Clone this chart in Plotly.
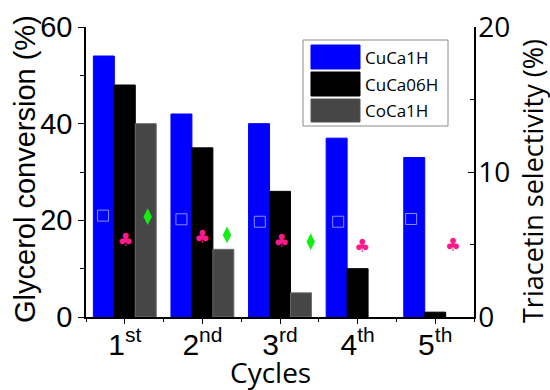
import plotly.graph_objects as go

cycles = [1, 2, 3, 4, 5]
cycle_labels = ["1<sup>st</sup>", "2<sup>nd</sup>", "3<sup>rd</sup>", "4<sup>th</sup>", "5<sup>th</sup>"]
series_names = ["CuCa1H", "CuCa06H", "CoCa1H"]
conv_cuca1h = [54, 42, 40, 37, 33]
conv_cuca06h = [48, 35, 26, 10, 1]
conv_coca1h = [40, 14, 5, None, None]

# selectivity markers (right axis)
sq_x = [0.72, 1.73, 2.74, 3.75, 4.69]
sq_y = [6.99, 6.74, 6.57, 6.57, 6.76]
club_x = [1.01, 2.0, 3.02, 4.06, 5.23]
club_y = [5.19, 5.38, 5.15, 4.8, 4.85]
dia_x = [1.295, 2.317, 3.396]
dia_y = [6.92, 5.66, 5.19]
ysq_x = [1.01]
ysq_y = [20.45]

colors = ["#0000ff", "#000000", "#464646"]
lines = ["#0000ff", "#000000", "#6a6a6a"]

fig = go.Figure()
for name, vals, c, lc in zip(series_names, [conv_cuca1h, conv_cuca06h, conv_coca1h], colors, lines):
    fig.add_trace(go.Bar(x=cycles, y=vals, name=name, marker=dict(color=c, line=dict(color=lc, width=1)),
                         showlegend=False))

fig.add_trace(go.Scatter(x=sq_x, y=sq_y, mode="markers", yaxis="y2", showlegend=False,
                         marker=dict(symbol="square-open", size=11, color="#8c8cff", line=dict(width=1))))
fig.add_trace(go.Scatter(x=club_x, y=club_y, mode="text", text=["♣"] * len(club_x), yaxis="y2",
                         showlegend=False, textfont=dict(family="DejaVu Sans", size=18, color="#ff1a8c")))
fig.add_trace(go.Scatter(x=dia_x, y=dia_y, mode="markers", yaxis="y2", showlegend=False,
                         marker=dict(symbol="diamond-tall", size=12, color="#11ee11")))
fig.add_trace(go.Scatter(x=ysq_x, y=ysq_y, mode="markers", yaxis="y2", showlegend=False, cliponaxis=False,
                         marker=dict(symbol="square-open", size=10, color="#ffff99", line=dict(width=1))))

W, H = 550, 390
ml, mr, mt, mb = 86, 76, 27, 73
pw, ph = W - ml - mr, H - mt - mb


def fx(x):
    return (x - ml) / pw


def fy(y):
    return 1 - (y - mt) / ph


# custom legend
lx0, lx1, ly0, ly1 = 303, 448, 40, 126
shapes = [dict(type="rect", xref="paper", yref="paper", x0=fx(lx0), x1=fx(lx1), y0=fy(ly1), y1=fy(ly0),
               line=dict(color="#8a8a8a", width=1), fillcolor="white", layer="above")]
annotations = []
rows = [(45, 69), (72, 96), (99, 122)]
for (t, b), name, c in zip(rows, series_names, colors):
    shapes.append(dict(type="rect", xref="paper", yref="paper", x0=fx(311), x1=fx(360), y0=fy(b), y1=fy(t),
                       line=dict(color="#555555" if c == "#464646" else c, width=1), fillcolor=c, layer="above"))
    annotations.append(dict(xref="paper", yref="paper", x=fx(363), y=fy((t + b) / 2), text=name,
                            showarrow=False, xanchor="left", yanchor="middle",
                            font=dict(family="Open Sans", size=17, color="black")))

# axis titles
annotations.append(dict(xref="paper", yref="paper", x=fx(25), y=fy(169), text="Glycerol conversion (%)",
                        textangle=-90, showarrow=False, xanchor="center", yanchor="middle",
                        font=dict(family="Liberation Sans", size=29, color="black")))
annotations.append(dict(xref="paper", yref="paper", x=fx(532), y=fy(181), text="Triacetin selectivity (%)",
                        textangle=-90, showarrow=False, xanchor="center", yanchor="middle",
                        font=dict(family="Open Sans", size=27, color="black")))
annotations.append(dict(xref="paper", yref="paper", x=fx(270), y=fy(372), text="Cycles",
                        showarrow=False, xanchor="center", yanchor="middle",
                        font=dict(family="Open Sans", size=28, color="black")))

fig.update_layout(
    width=550, height=390,
    margin=dict(l=ml, r=mr, t=mt, b=mb, autoexpand=False),
    plot_bgcolor="white", paper_bgcolor="white",
    barmode="group", bargap=0.19, bargroupgap=0,
    shapes=shapes, annotations=annotations,
    xaxis=dict(range=[0.5, 5.5], tickmode="array", tickvals=cycles, ticktext=cycle_labels, automargin=False,
               ticks="outside", ticklen=5, tickwidth=1, tickcolor="black", ticklabelstandoff=-5,
               minor=dict(tickmode="linear", tick0=0.5, dtick=1, ticks="outside", ticklen=3, tickcolor="black"),
               showline=True, linecolor="black", linewidth=1.5, showgrid=False, zeroline=False,
               tickfont=dict(family="Liberation Sans", size=30, color="black")),
    xaxis2=dict(range=[0.5, 5.5], overlaying="x", side="top", anchor="y", tickmode="array", tickvals=cycles,
                ticks="inside", ticklen=5, tickcolor="black", showticklabels=False, automargin=False,
                minor=dict(tickmode="linear", tick0=0.5, dtick=1, ticks="inside", ticklen=4, tickcolor="black"),
                showline=True, linecolor="black", linewidth=1.5, showgrid=False, zeroline=False),
    yaxis=dict(range=[0, 60], tickvals=[0, 20, 40, 60], ticks="outside", ticklen=6, tickcolor="black",
               automargin=False,
               minor=dict(tickvals=[10, 30, 50], ticks="outside", ticklen=4, tickcolor="black"),
               showline=True, linecolor="black", linewidth=1.5, showgrid=False, zeroline=False,
               tickfont=dict(family="Liberation Sans", size=29, color="black")),
    yaxis2=dict(range=[0, 20], overlaying="y", side="right", tickvals=[0, 10, 20], ticks="inside", ticklen=6,
                tickcolor="black", automargin=False, ticklabelstandoff=-3,
                minor=dict(tickvals=[5, 15], ticks="inside", ticklen=4, tickcolor="black"),
                showline=True, linecolor="black", linewidth=1.5, showgrid=False, zeroline=False,
                tickfont=dict(family="Open Sans", size=28, color="black")),
)
fig.write_html("out.html", config={"displayModeBar": False},
               post_script="document.body.style.margin='0';document.body.style.overflow='hidden';")
